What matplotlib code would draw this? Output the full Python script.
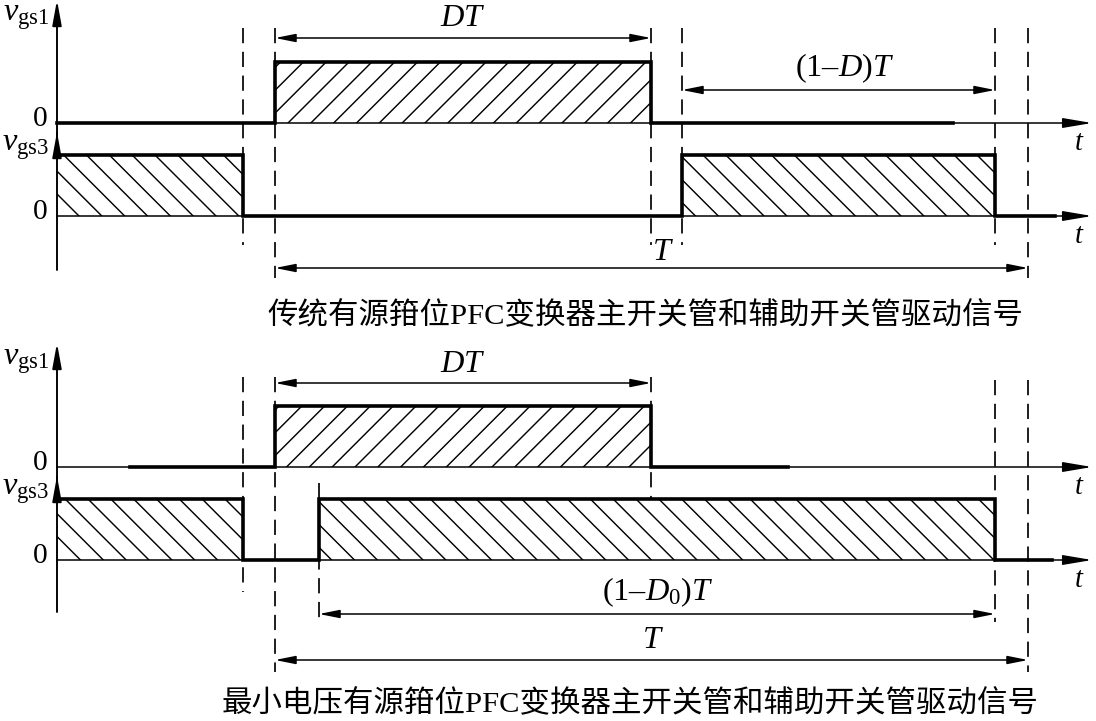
import matplotlib.pyplot as plt

plt.rcParams['font.family'] = ['Liberation Serif', 'Noto Sans CJK SC']
plt.rcParams['mathtext.fontset'] = 'custom'
plt.rcParams['mathtext.rm'] = 'Liberation Serif'
plt.rcParams['mathtext.it'] = 'Liberation Serif:italic'
plt.rcParams['hatch.linewidth'] = 0.75
plt.rcParams['lines.scale_dashes'] = False

# --- diagram data (horizontal = time in drawing units, levels 0/1) ---
t_axis = 57
t_end = 1092
pulse_h = 61

# upper diagram: conventional active clamp
top_gs1_t = [57, 275, 275, 651, 651, 953]
top_gs1_v = [0, 0, 1, 1, 0, 0]
top_gs3_t = [57, 243, 243, 682, 682, 995, 995, 1055]
top_gs3_v = [1, 1, 0, 0, 1, 1, 0, 0]
top_base = [123, 216]
top_dash_x = [243, 275, 651, 682, 995, 1028]
top_dash_lo = [245, 278, 245, 245, 245, 278]

# lower diagram: minimum-voltage active clamp
bot_gs1_t = [130, 275, 275, 651, 651, 788]
bot_gs1_v = [0, 0, 1, 1, 0, 0]
bot_gs3_t = [57, 243, 243, 319, 319, 995, 995, 1052]
bot_gs3_v = [1, 1, 0, 0, 1, 1, 0, 0]
bot_base = [467, 560]
bot_dash_x = [243, 275, 319, 651, 995, 1028]
bot_dash_hi = [377, 377, 483, 377, 380, 380]
bot_dash_lo = [592, 672, 620, 498, 622, 672]

captions = ['传统有源箝位PFC变换器主开关管和辅助开关管驱动信号',
            '最小电压有源箝位PFC变换器主开关管和辅助开关管驱动信号']

fig = plt.figure(figsize=(1096 / 137, 721 / 137), dpi=137)
ax = fig.add_axes([0, 0, 1, 1])
ax.set_xlim(0, 1096)
ax.set_ylim(721, 0)
ax.axis('off')


def arrow(x0, y0, x1, y1, both=False, lw=0.8, hl=0.9, hw=0.18):
    style = '<|-|>' if both else '-|>'
    ax.annotate('', xy=(x1, y1), xytext=(x0, y0),
                arrowprops=dict(arrowstyle=f'{style},head_length={hl},head_width={hw}',
                                lw=lw, color='black', shrinkA=0, shrinkB=0))


def waveform(t, v, base, hatch):
    y = [base - k * pulse_h for k in v]
    ax.fill_between(t, base, y, facecolor='none', edgecolor='black',
                    hatch=hatch, lw=0)
    ax.plot(t, y, color='black', lw=1.9, solid_joinstyle='miter')


def panel(base, gs1_t, gs1_v, gs3_t, gs3_v, axis_top, axis_bot):
    b1, b3 = base
    # vertical axis with two arrowheads
    arrow(t_axis, axis_bot, t_axis, axis_top, lw=1.0, hl=1.1, hw=0.2)
    arrow(t_axis, b1 + 10, t_axis, b3 - 84, lw=1.0, hl=1.1, hw=0.2)
    # time axes
    for b in base:
        arrow(t_axis, b, t_end, b, lw=0.8, hl=1.3, hw=0.22)
        ax.text(1079, b + 20, '$t$', fontsize=15, ha='center', va='center')
        ax.text(40, b - 4, '0', fontsize=15.5, ha='center', va='center')
    ax.text(26, b1 - 106, r'$v_{\mathrm{gs1}}$', fontsize=17, ha='center', va='center')
    ax.text(26, b3 - 69, r'$v_{\mathrm{gs3}}$', fontsize=17, ha='center', va='center')
    waveform(gs1_t, gs1_v, b1, '//')
    waveform(gs3_t, gs3_v, b3, '\\\\')


panel(top_base, top_gs1_t, top_gs1_v, top_gs3_t, top_gs3_v, 0, 270)
panel(bot_base, bot_gs1_t, bot_gs1_v, bot_gs3_t, bot_gs3_v, 343, 612)

for x, lo in zip(top_dash_x, top_dash_lo):
    ax.plot([x, x], [28, lo], color='black', lw=0.9, dashes=(8, 4.5))
for x, hi, lo in zip(bot_dash_x, bot_dash_hi, bot_dash_lo):
    ax.plot([x, x], [hi, lo], color='black', lw=0.9, dashes=(8, 4.5))

# dimension arrows, upper diagram
arrow(275, 38, 651, 38, both=True)
ax.text(463, 19, '$DT$', fontsize=17, ha='center', va='center')
arrow(682, 90, 995, 90, both=True)
ax.text(845, 68, '(1–$D$)$T$', fontsize=17, ha='center', va='center')
arrow(275, 268, 1028, 268, both=True)
ax.text(663, 252, '$T$', fontsize=17, ha='center', va='center')
ax.text(645, 316, captions[0], fontsize=16, ha='center', va='center')

# dimension arrows, lower diagram
arrow(275, 383, 651, 383, both=True)
ax.text(463, 364, '$DT$', fontsize=17, ha='center', va='center')
arrow(319, 614, 995, 614, both=True)
ax.text(658, 592, '(1–$D_0$)$T$', fontsize=17, ha='center', va='center')
arrow(275, 660, 1028, 660, both=True)
ax.text(653, 641, '$T$', fontsize=17, ha='center', va='center')
ax.text(630, 704, captions[1], fontsize=16, ha='center', va='center')

fig.savefig('out.png', dpi=137)
